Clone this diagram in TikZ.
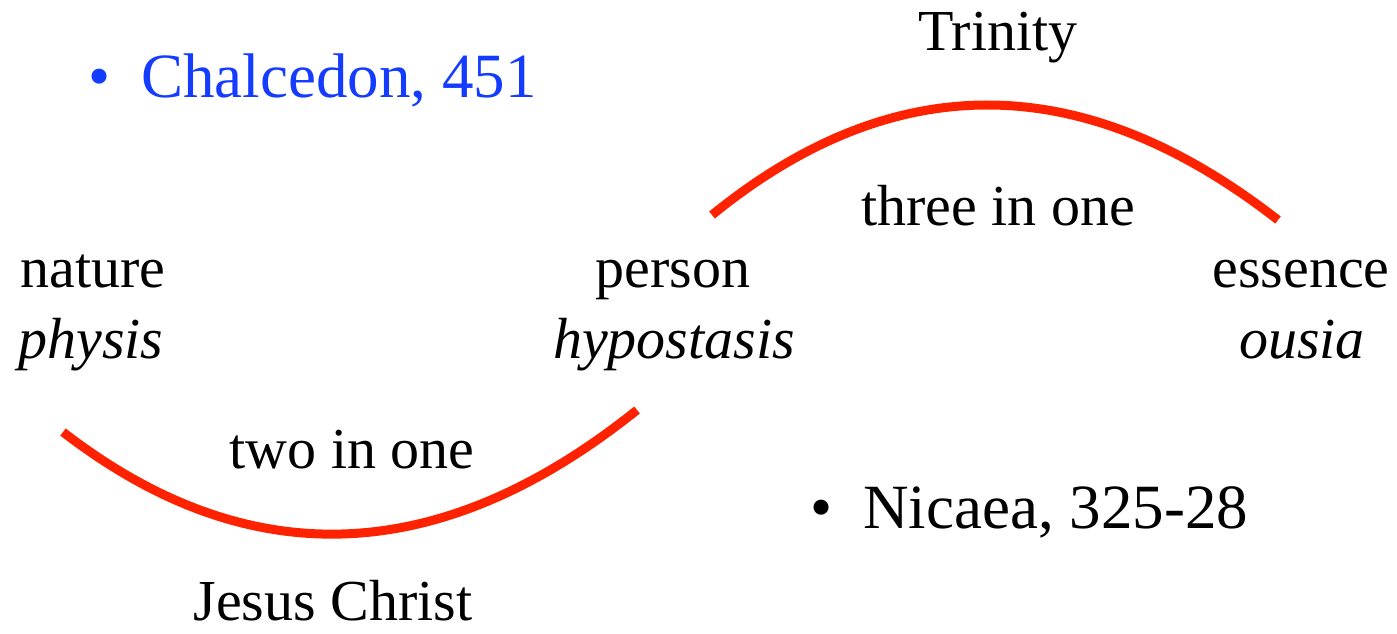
\documentclass[tikz,border=0pt]{standalone}
\usepackage{fontspec}
\setmainfont{Liberation Serif}
\usepackage{xcolor}
\usepackage{tikz}
\usetikzlibrary{positioning}
\definecolor{arcred}{RGB}{255,34,0}
\definecolor{itemblue}{RGB}{20,60,255}
\tikzset{
  term/.style={anchor=base, inner sep=0pt, font=\fontsize{58}{62}\selectfont},
  gloss/.style={term, font=\fontsize{58}{62}\selectfont\itshape},
  item/.style={anchor=base west, inner sep=0pt, font=\fontsize{63}{68}\selectfont},
  bond/.style={draw=arcred, line width=9pt}
}

\begin{document}
\begin{tikzpicture}[x=1pt, y=-1pt]
  \useasboundingbox (0,0) rectangle (1397,633);

  % bullet items
  \node[item, text=itemblue] (chalcedon) at (88,97) {•\hspace{31pt}Chalcedon, 451};
  \node[item] (nicaea) at (810,528) {•\hspace{31pt}Nicaea, 325-28};

  % terms
  \node[term] (nature) at (93,287) {nature};
  \node[gloss] (physis) at (91,358) {physis};
  \node[term] (person) at (673,287) {person};
  \node[gloss] (hypostasis) at (674,358) {hypostasis};
  \node[term] (essence) at (1301,287) {essence};
  \node[gloss] (ousia) at (1302,358) {ousia};

  % the two unions
  \coordinate (twoL) at (63,432);
  \coordinate (twoR) at (637,410);
  \coordinate (threeL) at (712,215);
  \coordinate (threeR) at (1278,220);
  \draw[bond] (twoL) .. controls (248,575) and (440,568) .. (twoR);
  \draw[bond] (threeL) .. controls (894,67) and (1083,68) .. (threeR);

  \node[term] (twoinone) at (352,468) {two in one};
  \node[term] (jesus) at (333,620) {Jesus Christ};
  \node[term] (threeinone) at (998,225) {three in one};
  \node[term] (trinity) at (998,50) {Trinity};
\end{tikzpicture}
\end{document}
